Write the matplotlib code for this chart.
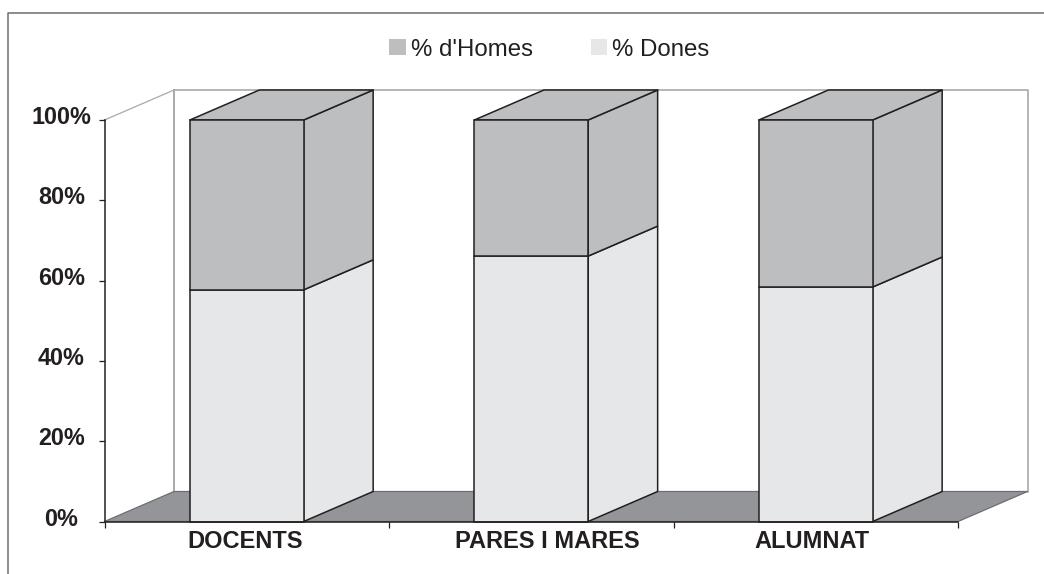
import matplotlib.pyplot as plt
from matplotlib.patches import Patch, Polygon
from matplotlib.transforms import ScaledTranslation

plt.rcParams['font.family'] = ['Liberation Sans', 'DejaVu Sans']

# Datos
categorias = ['DOCENTS', 'PARES I MARES', 'ALUMNAT']
dones = [57.7, 66.1, 58.4]
homes = [42.3, 33.9, 41.6]
yticks = [0, 20, 40, 60, 80, 100]

W, H = 1044, 574
TEXTO = '#231f20'
C_HOMES = '#bcbec0'
C_DONES = '#e6e7e8'
C_SUELO = '#939598'
C_PARED = '#a7a9ac'

# profundidad del falso 3D, en unidades de datos
dx = 69.5 / 284.5
dy = 30 / 4.015
ancho = 0.4

fig = plt.figure(figsize=(W / 100, H / 100), dpi=100)
ax = fig.add_axes([104.5 / W, 1 - 521.5 / H, 853.5 / W, 401.5 / H])
ax.set_xlim(0, 3)
ax.set_ylim(0, 100)
ax.patch.set_visible(False)


def cara(puntos, color, borde=TEXTO, lw=1.1, z=3):
    ax.add_patch(Polygon(puntos, closed=True, facecolor=color, edgecolor=borde,
                         linewidth=lw, clip_on=False, zorder=z, joinstyle='round'))


# marco exterior, cortado por la derecha y por abajo
fig.add_artist(plt.Line2D([7.5 / W, 7.5 / W, 1], [0, 1 - 12.5 / H, 1 - 12.5 / H],
                          color='#6d6e71', lw=1.1))

# paredes y suelo
ax.plot([0, dx], [100, 100 + dy], color=C_PARED, lw=0.9, clip_on=False, zorder=1)
ax.plot([dx, dx], [100 + dy, dy], color=C_PARED, lw=1.4, clip_on=False, zorder=1)
ax.plot([dx, 3 + dx, 3 + dx], [100 + dy, 100 + dy, dy], color=C_PARED, lw=1.2, clip_on=False, zorder=1)
cara([(0, 0), (3, 0), (3 + dx, dy), (dx, dy)], C_SUELO, borde='#6d6e71', lw=0.9, z=2)

# barras apiladas con caras lateral y superior
for i in range(len(categorias)):
    x0 = i + 0.5 - ancho / 2
    x1 = i + 0.5 + ancho / 2
    d = dones[i]
    t = dones[i] + homes[i]
    cara([(x1, 0), (x1 + dx, dy), (x1 + dx, d + dy), (x1, d)], C_DONES)
    cara([(x1, d), (x1 + dx, d + dy), (x1 + dx, t + dy), (x1, t)], C_HOMES)
    cara([(x0, t), (x0 + dx, t + dy), (x1 + dx, t + dy), (x1, t)], C_HOMES)
    ax.bar(i + 0.5, d, ancho, color=C_DONES, edgecolor=TEXTO, linewidth=1.1, zorder=4, clip_on=False)
    ax.bar(i + 0.5, homes[i], ancho, bottom=d, color=C_HOMES, edgecolor=TEXTO, linewidth=1.1, zorder=4, clip_on=False)

# ejes
for lado in ['top', 'right']:
    ax.spines[lado].set_visible(False)
for lado in ['left', 'bottom']:
    ax.spines[lado].set_color(TEXTO)
    ax.spines[lado].set_linewidth(1.1)
    ax.spines[lado].set_zorder(5)

ax.set_yticks(yticks)
ax.set_yticklabels([f'{v}%' for v in yticks], fontsize=16.8, fontweight='bold', color=TEXTO)
ax.tick_params(axis='y', length=4, width=0.9, color=TEXTO, pad=27)
for lab in ax.get_yticklabels():
    lab.set_ha('center')
    lab.set_transform(lab.get_transform() + ScaledTranslation(0, 5 / 100, fig.dpi_scale_trans))

ax.set_xticks([0, 1, 2, 3])
ax.tick_params(axis='x', length=4, width=0.9, color=TEXTO, labelbottom=False)
desvio = [-2, 16, -4]
for i, nombre in enumerate(categorias):
    ax.annotate(nombre, (i + 0.5, 0), xytext=(desvio[i] * 0.72, -20 * 0.72), textcoords='offset points',
                ha='center', va='center', fontsize=17, fontweight='bold', color=TEXTO, annotation_clip=False)

# leyenda
manejadores = [Patch(facecolor=C_HOMES, label="% d'Homes"), Patch(facecolor=C_DONES, label='% Dones')]
ax.legend(handles=manejadores, loc='center', bbox_to_anchor=(549.5 / W, 1 - 49.5 / H),
          bbox_transform=fig.transFigure, ncol=2, frameon=False, fontsize=17.3, labelcolor=TEXTO,
          handlelength=0.667, handleheight=0.667, handletextpad=0.23, columnspacing=2.4,
          borderpad=0, borderaxespad=0)

fig.savefig('out.png', dpi=100)
